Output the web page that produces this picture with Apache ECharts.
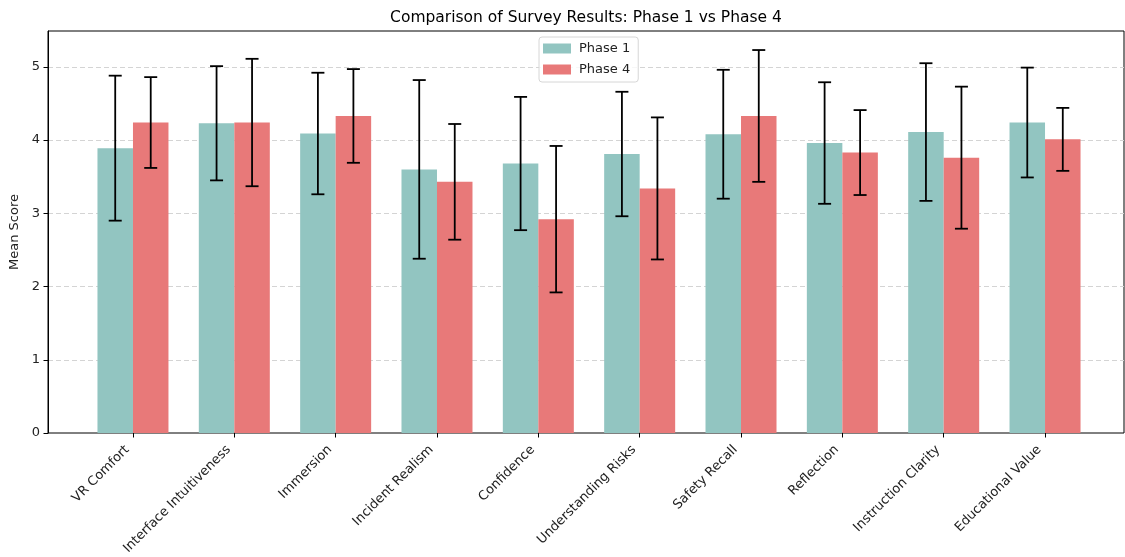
<!DOCTYPE html>
<html>
<head>
<meta charset="utf-8">
<title>Comparison of Survey Results</title>
<script src="https://cdn.jsdelivr.net/npm/echarts@6/dist/echarts.min.js"></script>
<style>
  html, body { margin: 0; padding: 0; background: #fff; }
  #chart { width: 1125px; height: 557px; }
</style>
</head>
<body>
<div id="chart"></div>
<script>
// Survey items and mean scores (with standard deviations) for both phases
const categories = ['VR Comfort', 'Interface Intuitiveness', 'Immersion', 'Incident Realism', 'Confidence',
  'Understanding Risks', 'Safety Recall', 'Reflection', 'Instruction Clarity', 'Educational Value'];
const phase1Mean = [3.89, 4.23, 4.09, 3.60, 3.68, 3.81, 4.08, 3.96, 4.11, 4.24];
const phase1Err  = [0.99, 0.78, 0.83, 1.22, 0.91, 0.85, 0.88, 0.83, 0.94, 0.75];
const phase4Mean = [4.24, 4.24, 4.33, 3.43, 2.92, 3.34, 4.33, 3.83, 3.76, 4.01];
const phase4Err  = [0.62, 0.87, 0.64, 0.79, 1.00, 0.97, 0.90, 0.58, 0.97, 0.43];
const yTicks = [0, 1, 2, 3, 4, 5];
const yMax = 5.49;

const FONT = 'DejaVu Sans';
const COLOR_P1 = '#92c5c1';
const COLOR_P4 = '#e87979';
const BAR_W = 35.5;

// frame grid (full axes box) and data grid (inset so category bands match spacing)
const FRAME = { left: 48, right: 1, top: 31, bottom: 124 };
const DATA = { left: 82.3, right: 29.3, top: 31, bottom: 124 };

function errorSeries(name, means, errs, offset) {
  return {
    type: 'custom',
    name: name + ' err',
    xAxisIndex: 1, yAxisIndex: 1,
    z: 10,
    silent: true,
    data: means.map((m, i) => [i, m - errs[i], m + errs[i]]),
    renderItem: function (params, api) {
      const i = api.value(0);
      const top = api.coord([i, api.value(2)]);
      const bot = api.coord([i, api.value(1)]);
      const x = top[0] + offset;
      const cap = 6.5;
      const st = { stroke: '#000', lineWidth: 1.8 };
      return {
        type: 'group',
        children: [
          { type: 'line', shape: { x1: x, y1: top[1], x2: x, y2: bot[1] }, style: st },
          { type: 'line', shape: { x1: x - cap, y1: top[1], x2: x + cap, y2: top[1] }, style: st },
          { type: 'line', shape: { x1: x - cap, y1: bot[1], x2: x + cap, y2: bot[1] }, style: st }
        ]
      };
    }
  };
}

const chart = echarts.init(document.getElementById('chart'), null, { renderer: 'canvas' });
chart.setOption({
  animation: false,
  backgroundColor: '#fff',
  textStyle: { fontFamily: FONT },
  title: {
    text: 'Comparison of Survey Results: Phase 1 vs Phase 4',
    left: 586, top: 10, padding: 0,
    textAlign: 'center',
    textStyle: { fontFamily: FONT, fontSize: 15.5, fontWeight: 'normal', color: '#000' }
  },
  legend: {
    data: ['Phase 1', 'Phase 4'],
    orient: 'vertical',
    left: 539, top: 37,
    padding: [5, 8, 6, 4],
    itemWidth: 28, itemHeight: 10, itemGap: 8,
    icon: 'rect',
    backgroundColor: 'rgba(255,255,255,0.8)',
    borderColor: '#d6d6d6', borderWidth: 1, borderRadius: 3,
    textStyle: { fontFamily: FONT, fontSize: 13, color: '#222', padding: [0, 0, 0, 3] }
  },
  grid: [
    Object.assign({ show: true, borderColor: '#000', borderWidth: 1, backgroundColor: 'transparent',
      outerBoundsMode: 'none', containLabel: false }, FRAME),
    Object.assign({ show: false, outerBoundsMode: 'none', containLabel: false }, DATA)
  ],
  xAxis: [
    { type: 'value', gridIndex: 0, min: 0, max: 1, show: false },
    {
      type: 'category', gridIndex: 1, data: categories,
      axisLine: { show: false },
      axisTick: { show: true, alignWithLabel: true, length: 4.5, lineStyle: { color: '#000' } },
      axisLabel: {
        rotate: 45, margin: 9, padding: [0, 8, 0, 0],
        fontFamily: FONT, fontSize: 13, color: '#222', interval: 0
      }
    }
  ],
  yAxis: [
    {
      type: 'value', gridIndex: 0, min: 0, max: yMax, interval: 1,
      name: 'Mean Score', nameLocation: 'middle', nameGap: 23,
      nameTextStyle: { fontFamily: FONT, fontSize: 13, color: '#222' },
      axisLine: { show: true, lineStyle: { color: '#000' } },
      axisTick: { show: true, length: 4.5, lineStyle: { color: '#000' } },
      axisLabel: {
        margin: 8, fontFamily: FONT, fontSize: 13, color: '#222',
        showMaxLabel: false,
        formatter: v => (yTicks.indexOf(v) >= 0 ? String(v) : '')
      },
      splitLine: {
        show: true, showMinLine: false, showMaxLine: false,
        lineStyle: { color: '#d4d4d4', type: [5, 3], width: 1 }
      }
    },
    { type: 'value', gridIndex: 1, min: 0, max: yMax, show: false, splitLine: { show: false } }
  ],
  series: [
    {
      name: 'Phase 1', type: 'bar', xAxisIndex: 1, yAxisIndex: 1,
      data: phase1Mean, barWidth: BAR_W, barGap: '0%',
      itemStyle: { color: COLOR_P1 }
    },
    {
      name: 'Phase 4', type: 'bar', xAxisIndex: 1, yAxisIndex: 1,
      data: phase4Mean, barWidth: BAR_W, barGap: '0%',
      itemStyle: { color: COLOR_P4 }
    },
    errorSeries('Phase 1', phase1Mean, phase1Err, -BAR_W / 2),
    errorSeries('Phase 4', phase4Mean, phase4Err, BAR_W / 2)
  ]
});
</script>
</body>
</html>
